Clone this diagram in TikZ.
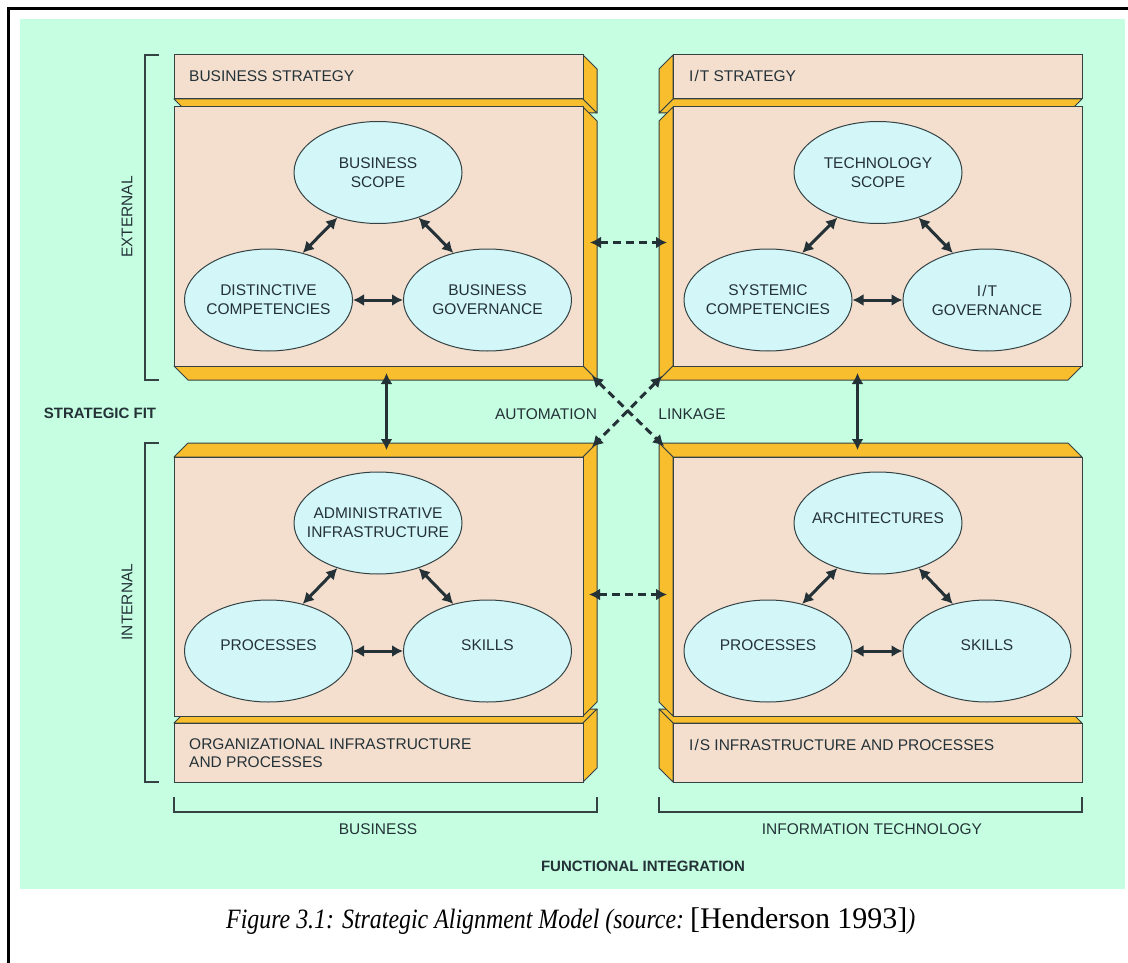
\documentclass[tikz,border=0pt]{standalone}
\usepackage{fontspec}
\setmainfont{Liberation Sans}
\newfontfamily\capfont{Liberation Serif}
\usetikzlibrary{arrows.meta,shapes.geometric,calc}
\pgfdeclarelayer{bglayer}
\pgfdeclarelayer{facelayer}
\pgfsetlayers{bglayer,facelayer,main}
\definecolor{mint}{RGB}{197,254,225}
\definecolor{peach}{RGB}{244,223,207}
\definecolor{orng}{RGB}{249,190,46}
\definecolor{ovalc}{RGB}{211,246,248}
\definecolor{edgec}{RGB}{52,66,68}
\definecolor{ink}{RGB}{36,50,56}
\begin{document}
\begin{tikzpicture}[x=1pt,y=-1pt,
  front/.style={rectangle, draw=edgec, fill=peach, line width=1pt, inner sep=0pt, outer sep=0pt, minimum width=409pt, anchor=north west},
  face/.style={draw=edgec, fill=orng, line width=1pt, line join=round},
  oval/.style={ellipse, draw=edgec, fill=ovalc, line width=1pt, minimum width=168pt, minimum height=102pt, inner sep=0pt},
  lbl/.style={font=\fontsize{15.5}{19}\selectfont, text=ink, align=center, inner sep=0pt},
  blbl/.style={lbl, font=\fontsize{15}{19}\selectfont\bfseries},
  arr/.style={line width=3pt, draw=ink, {Latex[length=11pt,width=12pt]}-{Latex[length=11pt,width=12pt]}},
  darr/.style={arr, dash pattern=on 8pt off 5pt},
  brk/.style={draw=edgec, line width=1.2pt}]
\useasboundingbox (0,0) rectangle (1128,963);
\begin{pgfonlayer}{bglayer}
  \fill[white] (0,0) rectangle (1128,963);
  \fill[mint] (20,19) rectangle (1125,889);
  \draw[black, line width=2.8pt] (8.6,963) -- (8.6,8.4) -- (1128,8.4);
\end{pgfonlayer}

% box fronts
\node[front, minimum height=44pt] (tls) at (174,55) {};
\node[front, minimum height=259pt] (tlm) at (174,107) {};
\node[front, minimum height=44pt] (trs) at (673,55) {};
\node[front, minimum height=259pt] (trm) at (673,107) {};
\node[front, minimum height=259pt] (blm) at (174,457) {};
\node[front, minimum height=59pt] (bls) at (174,723) {};
\node[front, minimum height=259pt] (brm) at (673,457) {};
\node[front, minimum height=59pt] (brs) at (673,723) {};

\begin{pgfonlayer}{facelayer}
  % top left
  \path[face] (tls.south west) -- (tls.south east) -- ++(14,14) -- ($(tls.south west)+(14,14)$) -- cycle;
  \path[face] (tls.north east) -- ++(14,14) -- ++(0,44) -- (tls.south east) -- cycle;
  \path[face] (tlm.north east) -- ++(14,14) -- ++(0,259) -- (tlm.south east) -- cycle;
  \path[face] (tlm.south west) -- (tlm.south east) -- ++(14,14) -- ($(tlm.south west)+(14,14)$) -- cycle;
  % top right
  \path[face] (trs.south east) -- (trs.south west) -- ++(-14,14) -- ($(trs.south east)+(-14,14)$) -- cycle;
  \path[face] (trs.north west) -- ++(-14,14) -- ++(0,44) -- (trs.south west) -- cycle;
  \path[face] (trm.north west) -- ++(-14,14) -- ++(0,259) -- (trm.south west) -- cycle;
  \path[face] (trm.south east) -- (trm.south west) -- ++(-14,14) -- ($(trm.south east)+(-14,14)$) -- cycle;
  % bottom left
  \path[face] (bls.north west) -- (bls.north east) -- ++(14,-14) -- ($(bls.north west)+(14,-14)$) -- cycle;
  \path[face] (bls.north east) -- ++(14,-14) -- ++(0,59) -- (bls.south east) -- cycle;
  \path[face] (blm.north west) -- (blm.north east) -- ++(14,-14) -- ($(blm.north west)+(14,-14)$) -- cycle;
  \path[face] (blm.north east) -- ++(14,-14) -- ++(0,259) -- (blm.south east) -- cycle;
  % bottom right
  \path[face] (brs.north east) -- (brs.north west) -- ++(-14,-14) -- ($(brs.north east)+(-14,-14)$) -- cycle;
  \path[face] (brs.north west) -- ++(-14,-14) -- ++(0,59) -- (brs.south west) -- cycle;
  \path[face] (brm.north east) -- (brm.north west) -- ++(-14,-14) -- ($(brm.north east)+(-14,-14)$) -- cycle;
  \path[face] (brm.north west) -- ++(-14,-14) -- ++(0,259) -- (brm.south west) -- cycle;
\end{pgfonlayer}

% strip labels
\node[lbl, anchor=west] (tlst) at (189,76) {BUSINESS STRATEGY};
\node[lbl, anchor=west] (trst) at (689,76) {I\kern1pt/\kern1pt T STRATEGY};
\node[lbl, anchor=west, align=left, font=\fontsize{15.5}{18}\selectfont] (blst) at (189,753) {ORGANIZATIONAL INFRASTRUCTURE\\AND PROCESSES};
\node[lbl, anchor=west] (brst) at (689,745) {I\kern1pt/\kern1pt S INFRASTRUCTURE AND PROCESSES};

% ellipses top left
\node[oval] (bs) at (378,172.5) {};
\node[oval] (dc) at (268.5,300) {};
\node[oval] (bg) at (487.5,300) {};
\node[lbl] (bst) at (bs.center) {BUSINESS\\SCOPE};
\node[lbl] (dct) at (dc.center) {DISTINCTIVE\\COMPETENCIES};
\node[lbl] (bgt) at (bg.center) {BUSINESS\\GOVERNANCE};
% ellipses top right
\node[oval] (ts) at (878,172.5) {};
\node[oval] (sc) at (768,300) {};
\node[oval] (ig) at (987,300) {};
\node[lbl] (tst) at (ts.center) {TECHNOLOGY\\SCOPE};
\node[lbl] (sct) at (sc.center) {SYSTEMIC\\COMPETENCIES};
\node[lbl] (igt) at (ig.center) {I\kern1pt/\kern1pt T\\GOVERNANCE};
% ellipses bottom left
\node[oval] (ai) at (378,523) {};
\node[oval] (pb) at (268.5,651) {};
\node[oval] (sb) at (487.5,651) {};
\node[lbl] (ait) at (ai.center) {ADMINISTRATIVE\\INFRASTRUCTURE};
\node[lbl] (pbt) at ($(pb.center)+(0,-6)$) {PROCESSES};
\node[lbl] (sbt) at ($(sb.center)+(0,-6)$) {SKILLS};
% ellipses bottom right
\node[oval] (ar) at (878,523) {};
\node[oval] (pi) at (768,651) {};
\node[oval] (si) at (987,651) {};
\node[lbl] (art) at ($(ar.center)+(0,-5)$) {ARCHITECTURES};
\node[lbl] (pit) at ($(pi.center)+(0,-6)$) {PROCESSES};
\node[lbl] (sit) at ($(si.center)+(0,-6)$) {SKILLS};

% arrows inside blocks
\foreach \a/\b/\c in {bs/dc/bg, ts/sc/ig, ai/pb/sb, ar/pi/si}{
  \draw[arr] (\a.228) -- (\b.54);
  \draw[arr] (\a.312) -- (\c.126);
  \draw[arr] (\b.east) -- (\c.west);
}

% connectors between blocks
\draw[arr] ($(tlm.south)+(8,7)$) -- ($(blm.north)+(8,-7)$);
\draw[arr] ($(trm.south)+(-20,7)$) -- ($(brm.north)+(-20,-7)$);
\draw[darr] ($(tlm.east)+(7,6)$) -- ($(trm.west)+(-6,6)$);
\draw[darr] ($(blm.east)+(6,8)$) -- ($(brm.west)+(-6,8)$);
\draw[darr] ($(tlm.south east)+(9,10)$) -- ($(brm.north west)+(-9,-11)$);
\draw[darr] ($(trm.south west)+(-11,10)$) -- ($(blm.north east)+(9,-10)$);

% brackets
\draw[brk] (159,55) -- (145,55) -- (145,380) -- (159,380);
\draw[brk] (159,443) -- (145,443) -- (145,782) -- (159,782);
\draw[brk] (174,797) -- (174,812) -- (597,812) -- (597,797);
\draw[brk] (659,797) -- (659,812) -- (1082,812) -- (1082,797);

% outer labels
\node[lbl, rotate=90] (ext) at (127,217) {EXTERNAL};
\node[lbl, rotate=90] (int) at (127,602) {INTERNAL};
\node[blbl] (sfit) at (100,413) {STRATEGIC FIT};
\node[lbl] (auto) at (546,414) {AUTOMATION};
\node[lbl] (link) at (692,414) {LINKAGE};
\node[lbl] (busl) at (378,829) {BUSINESS};
\node[lbl] (itl) at (872,829) {INFORMATION TECHNOLOGY};
\node[blbl] (fint) at (643,866) {FUNCTIONAL INTEGRATION};

% caption
\node[anchor=base west, inner sep=0pt, text=black] (cap) at (226,928)
  {\capfont\scalebox{0.853}[1]{\fontsize{28}{28}\selectfont\itshape Figure 3.1: Strategic Alignment Model (source:\ }{\fontsize{30}{30}\selectfont [Henderson 1993]}\scalebox{0.853}[1]{\fontsize{28}{28}\selectfont\itshape )}};
\end{tikzpicture}
\end{document}
